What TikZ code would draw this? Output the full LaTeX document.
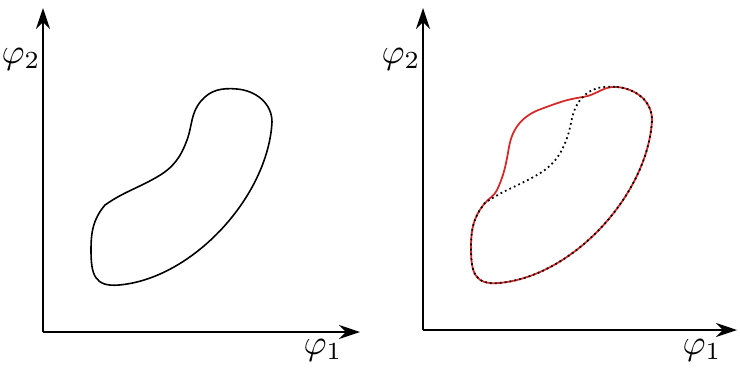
\documentclass[tikz,border=0pt]{standalone}
\usepackage{amsmath,amssymb}
\usepackage{xcolor}
\usepackage{tikz}
\usetikzlibrary{arrows.meta, positioning, calc}

\definecolor{curvered}{RGB}{215,40,40}

% region outline, local units (origin = corner of the axes)
% shared part: top -> right -> bottom -> left shoulder
\newcommand{\outerpart}{(194,243) to[out=-5, in=90] (229,210)
  to[out=-93, in=5, looseness=0.85] (76,47)
  to[out=185, in=-90, looseness=1.4] (48,82)
  to[out=90, in=-130] (62,127)}
% original upper left side
\newcommand{\innerpart}{to[out=35, in=-150] (114,155)
  to[out=30, in=-110] (144,192) to[out=70, in=-130] (158,231)
  to[out=50, in=175] cycle}
% pushed-out upper left side
\newcommand{\bulgepart}{to[out=50, in=-115] (74,140)
  to[out=65, in=-100] (86,183) to[out=80, in=-160] (118,221)
  to[out=20, in=188] (160,233) to[out=8, in=175] cycle}

\begin{document}
\begin{tikzpicture}[x=0.01cm, y=0.01cm,
  axis/.style={-{Stealth[length=2.1mm, width=1.4mm]}, line width=0.55pt},
  region/.style={line width=0.45pt, black},
  moved/.style={line width=0.5pt, curvered},
  old/.style={line width=0.5pt, black, dash pattern=on 0.5pt off 0.9pt},
  lbl/.style={font=\normalsize, inner sep=0pt},
]
\useasboundingbox (0,0) rectangle (740,369);

% ── LEFT: original region ──
\coordinate (o1) at (43,37);
\coordinate (x1) at (360,37);
\coordinate (y1) at (43,361);
\draw[axis] (o1) -- (x1);
\draw[axis] (o1) -- (y1);
\node[lbl, anchor=east] (phi2a) at (41,310) {$\varphi_2$};
\node[lbl] (phi1a) at (323,19) {$\varphi_1$};
\begin{scope}[shift={(o1)}]
  \draw[region] \outerpart \innerpart;
\end{scope}

% ── RIGHT: deformed region over the old one ──
\coordinate (o2) at (423,39);
\coordinate (x2) at (737,39);
\coordinate (y2) at (423,361);
\draw[axis] (o2) -- (x2);
\draw[axis] (o2) -- (y2);
\node[lbl, anchor=east] (phi2b) at (421,310) {$\varphi_2$};
\node[lbl] (phi1b) at (702,19) {$\varphi_1$};
\begin{scope}[shift={(o2)}]
  \draw[moved] \outerpart \bulgepart;
  \draw[old] \outerpart \innerpart;
\end{scope}

\end{tikzpicture}
\end{document}
